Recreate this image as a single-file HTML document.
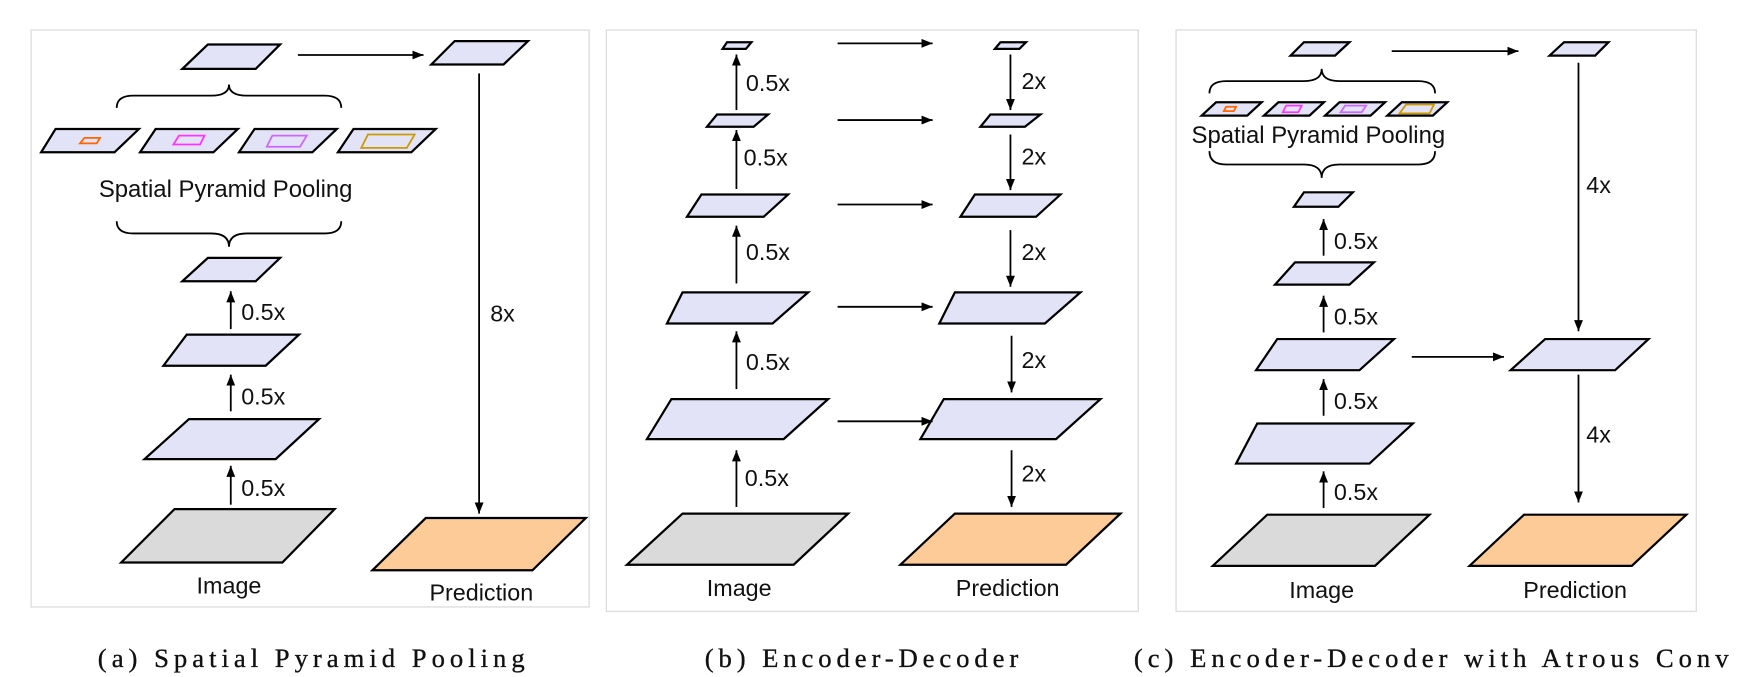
<!DOCTYPE html>
<html><head><meta charset="utf-8"><style>
html,body{margin:0;padding:0;background:#fff;}
svg{display:block;}
text{font-family:"Liberation Sans",Arial,sans-serif;fill:#111;}
.cap{font-family:"Liberation Serif",serif;font-size:24px;stroke:#111;stroke-width:0.3;}
</style></head><body>
<svg width="1743" height="677" viewBox="0 0 1568 609" preserveAspectRatio="none" xmlns="http://www.w3.org/2000/svg">
<defs>
<marker id="ah" viewBox="0 0 10 8" refX="10" refY="4" markerWidth="10" markerHeight="8" markerUnits="userSpaceOnUse" orient="auto">
<path d="M0,0 L10,4 L0,8 z" fill="#000"/></marker>
</defs>
<g fill="none" stroke="#ddd" stroke-width="1.2">
<rect x="28" y="27" width="502" height="519"/>
<rect x="545.5" y="27" width="478.5" height="523"/>
<rect x="1058" y="27" width="468" height="523"/>
</g>
<g stroke="#000" stroke-width="2" stroke-linejoin="miter">
<polygon fill="#e3e3f8" points="187,40 252,40 230,62 164,62"/>
<polygon fill="#e3e3f8" points="409,37 475,37 453,58 388,58"/>
<polygon fill="#e3e3f8" points="50,116 125,116 103,137 37,137"/>
<polygon fill="#e3e3f8" points="140,116 214,116 192,137 126,137"/>
<polygon fill="#e3e3f8" points="229,116 303,116 281,137 215,137"/>
<polygon fill="#e3e3f8" points="318,116 392,116 370,137 304,137"/>
<polygon fill="#e3e3f8" points="187,232 252,232 230,253 164,253"/>
<polygon fill="#e3e3f8" points="168,301 269,301 239,329 147,329"/>
<polygon fill="#e3e3f8" points="170,377 287,377 248,413 130,413"/>
<polygon fill="#dadada" points="157,458 301,458 254,506 109,506"/>
<polygon fill="#fdcb98" points="383,466 527,466 479,513 335,513"/>
<polygon fill="#e3e3f8" points="654,38 676,38 671,44 650,44"/>
<polygon fill="#e3e3f8" points="645,103 691,103 678,114 636,114"/>
<polygon fill="#e3e3f8" points="631,175 709,175 687,195 618,195"/>
<polygon fill="#e3e3f8" points="614,263 727,263 695,291 600,291"/>
<polygon fill="#e3e3f8" points="604,359 745,359 705,395 582,395"/>
<polygon fill="#dadada" points="614,462 763,462 714,508 564,508"/>
<polygon fill="#e3e3f8" points="900,38 923,38 917,44 895,44"/>
<polygon fill="#e3e3f8" points="891,103 936,103 922,114 882,114"/>
<polygon fill="#e3e3f8" points="877,175 954,175 932,195 864,195"/>
<polygon fill="#e3e3f8" points="859,263 972,263 940,291 845,291"/>
<polygon fill="#e3e3f8" points="849,359 990,359 950,395 828,395"/>
<polygon fill="#fdcb98" points="859,462 1008,462 959,508 810,508"/>
<polygon fill="#e3e3f8" points="1173,38 1214,38 1201,50 1161,50"/>
<polygon fill="#e3e3f8" points="1407,38 1447,38 1435,50 1394,50"/>
<polygon fill="#e3e3f8" points="1094,92 1135,92 1122,104 1081,104"/>
<polygon fill="#e3e3f8" points="1150,92 1191,92 1178,104 1137,104"/>
<polygon fill="#e3e3f8" points="1205,92 1246,92 1233,104 1192,104"/>
<polygon fill="#e3e3f8" points="1261,92 1302,92 1289,104 1248,104"/>
<polygon fill="#e3e3f8" points="1173,173 1217,173 1204,186 1164,186"/>
<polygon fill="#e3e3f8" points="1165,236 1236,236 1214,256 1147,256"/>
<polygon fill="#e3e3f8" points="1149,305 1254,305 1223,333 1130,333"/>
<polygon fill="#e3e3f8" points="1131,381 1271,381 1232,417 1112,417"/>
<polygon fill="#dadada" points="1140,463 1286,463 1237,509 1091,509"/>
<polygon fill="#e3e3f8" points="1390,305 1483,305 1453,333 1359,333"/>
<polygon fill="#fdcb98" points="1371,463 1517,463 1468,509 1322,509"/>
</g>
<g fill="none" stroke-width="1.6">
<polygon stroke="#ff6600" points="76,124 90,124 87,129 72,129"/>
<polygon stroke="#ff33ff" points="161,122 184,122 180,130 156,130"/>
<polygon stroke="#cc66ff" points="245,122 276,122 270,132 240,132"/>
<polygon stroke="#cc9900" points="331,121 373,121 366,133 325,133"/>
<polygon stroke="#ff6600" points="1103,96 1112,96 1110,100 1101,100"/>
<polygon stroke="#ff33ff" points="1157,95 1171,95 1168,101 1154,101"/>
<polygon stroke="#cc66ff" points="1210,95 1229,95 1225,101 1206,101"/>
<polygon stroke="#cc9900" points="1265,94 1290,94 1286,102 1259,102"/>
</g>
<g fill="none" stroke="#000" stroke-width="1.6">
<path d="M105,97 Q105,86 120,86 L190,86 Q206,86 206,76 Q206,86 222,86 L292,86 Q307,86 307,97"/>
<path d="M105,199 Q105,210 120,210 L190,210 Q206,210 206,222 Q206,210 222,210 L292,210 Q307,210 307,199"/>
<path d="M1088,84 Q1088,73 1103,73 L1173,73 Q1189,73 1189,62 Q1189,73 1205,73 L1276,73 Q1291,73 1291,84"/>
<path d="M1088,136 Q1088,148 1103,148 L1173,148 Q1189,148 1189,160 Q1189,148 1205,148 L1276,148 Q1291,148 1291,136"/>
</g>
<g stroke="#000" stroke-width="1.6" marker-end="url(#ah)">
<line x1="268" y1="49.5" x2="381" y2="49.5"/>
<line x1="431" y1="66" x2="431" y2="462"/>
<line x1="207.6" y1="296" x2="207.6" y2="262"/>
<line x1="207.6" y1="370" x2="207.6" y2="337"/>
<line x1="207.6" y1="454" x2="207.6" y2="419"/>
<line x1="662.5" y1="99" x2="662.5" y2="49"/>
<line x1="662.5" y1="170" x2="662.5" y2="117"/>
<line x1="662.5" y1="255" x2="662.5" y2="203"/>
<line x1="662.5" y1="350" x2="662.5" y2="298"/>
<line x1="662.5" y1="456" x2="662.5" y2="405"/>
<line x1="753.5" y1="39" x2="839" y2="39"/>
<line x1="753.5" y1="108" x2="839" y2="108"/>
<line x1="753.5" y1="184" x2="839" y2="184"/>
<line x1="753.5" y1="276" x2="839" y2="276"/>
<line x1="753.5" y1="379" x2="839" y2="379"/>
<line x1="909" y1="49" x2="909" y2="99"/>
<line x1="909" y1="121" x2="909" y2="171"/>
<line x1="909" y1="207" x2="909" y2="258"/>
<line x1="910" y1="302" x2="910" y2="353"/>
<line x1="910" y1="405" x2="910" y2="456"/>
<line x1="1252" y1="46" x2="1366" y2="46"/>
<line x1="1190.7" y1="230" x2="1190.7" y2="197"/>
<line x1="1190.7" y1="299" x2="1190.7" y2="266"/>
<line x1="1190.7" y1="374" x2="1190.7" y2="341"/>
<line x1="1190.7" y1="457" x2="1190.7" y2="424"/>
<line x1="1270" y1="321" x2="1353" y2="321"/>
<line x1="1420" y1="56.5" x2="1420" y2="298"/>
<line x1="1420" y1="337" x2="1420" y2="452"/>
</g>
<g font-size="21">
<text x="203" y="177" text-anchor="middle" font-size="21.5">Spatial Pyramid Pooling</text>
<text x="217" y="288">0.5x</text>
<text x="217" y="364">0.5x</text>
<text x="217" y="446">0.5x</text>
<text x="441" y="289">8x</text>
<text x="206" y="534" text-anchor="middle">Image</text>
<text x="433" y="540" text-anchor="middle">Prediction</text>
<text x="671" y="82">0.5x</text>
<text x="669" y="149">0.5x</text>
<text x="671" y="234">0.5x</text>
<text x="671" y="333">0.5x</text>
<text x="670" y="437">0.5x</text>
<text x="919" y="80">2x</text>
<text x="919" y="148">2x</text>
<text x="919" y="234">2x</text>
<text x="919" y="331">2x</text>
<text x="919" y="433">2x</text>
<text x="665" y="536" text-anchor="middle">Image</text>
<text x="906.5" y="536" text-anchor="middle">Prediction</text>
<text x="1186" y="128.6" text-anchor="middle" font-size="21.5">Spatial Pyramid Pooling</text>
<text x="1200" y="224">0.5x</text>
<text x="1200" y="292">0.5x</text>
<text x="1200" y="368">0.5x</text>
<text x="1200" y="450">0.5x</text>
<text x="1427" y="173.5">4x</text>
<text x="1427" y="398">4x</text>
<text x="1189" y="538" text-anchor="middle">Image</text>
<text x="1417" y="538" text-anchor="middle">Prediction</text>
</g>
<text class="cap" x="88" y="600" textLength="384" lengthAdjust="spacing">(a) Spatial Pyramid Pooling</text>
<text class="cap" x="634" y="600" textLength="282" lengthAdjust="spacing">(b) Encoder-Decoder</text>
<text class="cap" x="1020" y="600" textLength="535" lengthAdjust="spacing">(c) Encoder-Decoder with Atrous Conv</text>
</svg>
</body></html>
